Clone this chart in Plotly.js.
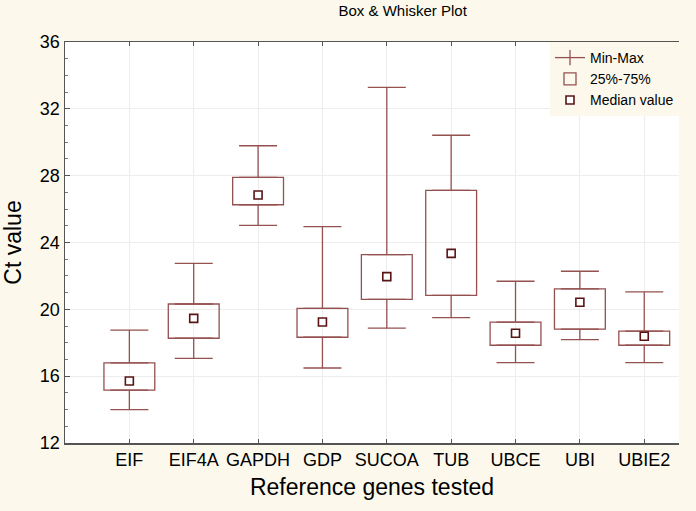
<!DOCTYPE html>
<html>
<head>
<meta charset="utf-8">
<script src="https://cdn.plot.ly/plotly-3.0.1.min.js"></script>
<style>html,body{margin:0;padding:0;background:#FCF9EC;}#chart{width:696px;height:511px;}</style>
</head>
<body>
<div id="chart"></div>
<script>
const genes = ['EIF','EIF4A','GAPDH','GDP','SUCOA','TUB','UBCE','UBI','UBIE2'];
const minVals = [14.0, 17.07, 25.03, 16.49, 18.87, 19.5, 16.81, 18.19, 16.81];
const q1Vals = [15.17, 18.27, 26.26, 18.33, 20.6, 20.84, 17.85, 18.82, 17.85];
const medVals = [15.71, 19.46, 26.84, 19.24, 21.96, 23.35, 18.57, 20.42, 18.39];
const q3Vals = [16.79, 20.32, 27.9, 20.06, 23.27, 27.12, 19.23, 21.22, 18.69];
const maxVals = [18.76, 22.75, 29.79, 24.95, 33.29, 30.42, 21.68, 22.28, 21.04];
const yTicks = [12, 16, 20, 24, 28, 32, 36];

const lineColor = '#955050';
const medColor = '#5A1414';
const cream = '#FCF9EC';
const font = 'Arial, "Liberation Sans", sans-serif';

// legend entry for the whiskers (error bars are not drawn in legends)
const mmLegend = {
  type: 'scatter', x: [null], y: [null], mode: 'lines+markers', name: 'Min-Max',
  legendgroup: 'mm', showlegend: true,
  line: {color: lineColor, width: 1.3},
  marker: {symbol: 'line-ns-open', size: 11, color: lineColor, line: {color: lineColor, width: 1.3}},
  hoverinfo: 'skip'
};
const upper = {
  type: 'scatter', x: genes, y: q3Vals, mode: 'markers', name: 'Min-Max',
  legendgroup: 'mm', showlegend: false,
  marker: {size: 1, color: 'rgba(0,0,0,0)'},
  error_y: {type: 'data', symmetric: false,
    array: maxVals.map((v, i) => v - q3Vals[i]),
    arrayminus: q3Vals.map(() => 0),
    width: 19, thickness: 1.3, color: lineColor},
  hoverinfo: 'skip'
};
const lower = {
  type: 'scatter', x: genes, y: q1Vals, mode: 'markers', name: 'Min-Max',
  legendgroup: 'mm', showlegend: false,
  marker: {size: 1, color: 'rgba(0,0,0,0)'},
  error_y: {type: 'data', symmetric: false,
    array: q1Vals.map(() => 0),
    arrayminus: q1Vals.map((v, i) => v - minVals[i]),
    width: 19, thickness: 1.3, color: lineColor},
  hoverinfo: 'skip'
};
const boxes = {
  type: 'bar', x: genes, base: q1Vals, y: q3Vals.map((v, i) => v - q1Vals[i]),
  name: '25%-75%', width: 0.79,
  marker: {color: 'rgba(255,255,255,0)', line: {color: lineColor, width: 1.3}}
};
const medians = {
  type: 'scatter', x: genes, y: medVals, mode: 'markers', name: 'Median value',
  marker: {symbol: 'square', size: 8, color: '#FFFFFF', line: {color: medColor, width: 1.6}}
};

const layout = {
  width: 696, height: 511,
  paper_bgcolor: cream, plot_bgcolor: '#FFFFFF',
  margin: {l: 65, r: 17, t: 42, b: 68},
  font: {family: font, color: '#000000'},
  title: {text: 'Box & Whisker Plot', font: {size: 15, family: font, color: '#000'},
    x: 0.55, xref: 'paper', xanchor: 'center', y: 0.978, yref: 'container', yanchor: 'middle'},
  showlegend: true,
  legend: {x: 1, xanchor: 'right', y: 1, yanchor: 'top', bgcolor: cream,
    font: {size: 14, family: font}, tracegroupgap: 0, itemwidth: 30,
    borderwidth: 0},
  xaxis: {
    type: 'category', range: [-1, 8.54],
    showline: true, linecolor: '#555555', linewidth: 1.5, mirror: 'ticks',
    ticks: 'inside', ticklen: 4, tickcolor: '#555555',
    showgrid: true, gridcolor: '#EDEDED', gridwidth: 1,
    tickfont: {size: 18, family: font},
    title: {text: 'Reference genes tested', font: {size: 23, family: font}, standoff: 10},
    zeroline: false
  },
  yaxis: {
    range: [12, 36], tickvals: yTicks, ticktext: yTicks.map(String),
    showline: true, linecolor: '#555555', linewidth: 1.5,
    ticks: 'inside', ticklen: 5, tickcolor: '#555555',
    minor: {dtick: 1, ticks: 'inside', ticklen: 3, tickcolor: '#777777', showgrid: false},
    showgrid: true, gridcolor: '#EDEDED', gridwidth: 1,
    tickfont: {size: 18, family: font},
    title: {text: 'Ct value', font: {size: 23, family: font}, standoff: 14},
    zeroline: false
  },
  bargap: 0.2
};

Plotly.newPlot('chart', [mmLegend, upper, lower, boxes, medians], layout, {displayModeBar: false, staticPlot: true});
</script>
</body>
</html>
